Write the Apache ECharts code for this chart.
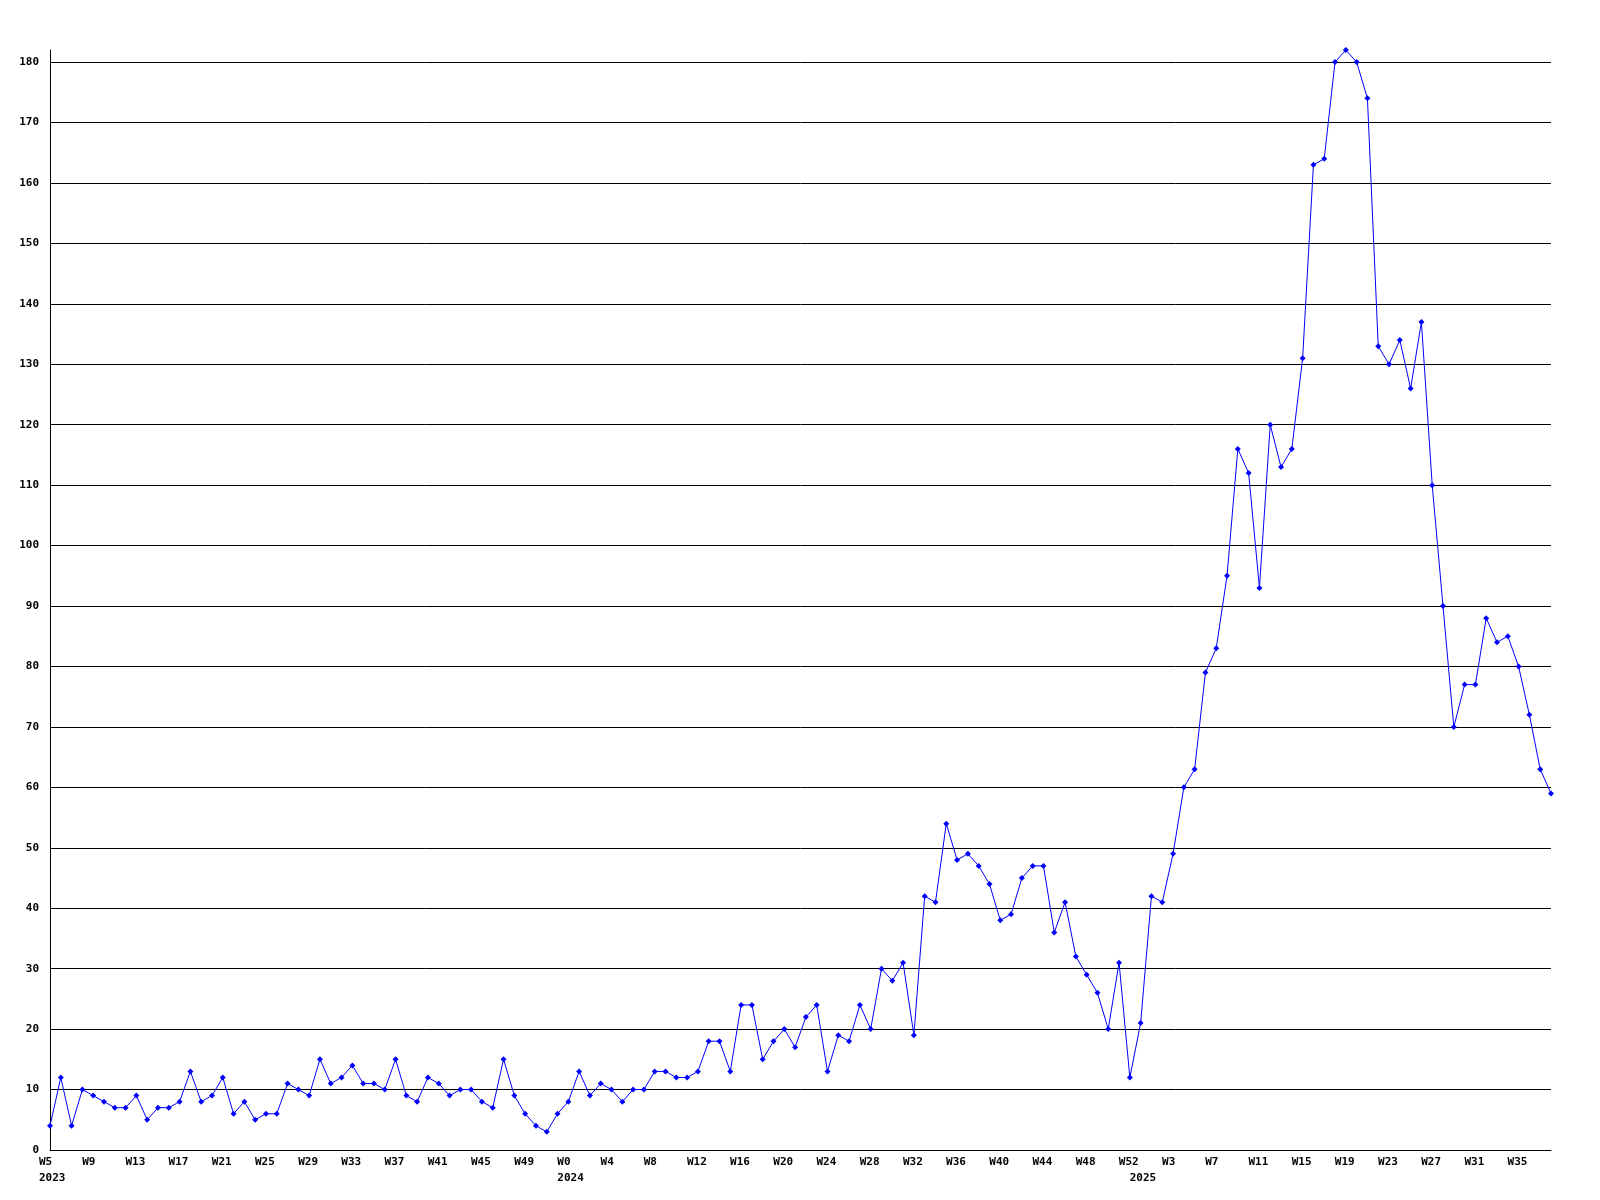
<!DOCTYPE html>
<html>
<head>
<meta charset="utf-8">
<script src="https://cdn.jsdelivr.net/npm/echarts@6/dist/echarts.min.js"></script>
<style>
html,body{margin:0;padding:0;background:#fff;}
#chart{width:1600px;height:1200px;}
</style>
</head>
<body>
<div id="chart"></div>
<script>
// Week ranges per year: [year, firstWeek, lastWeek]
const weekRanges = [[2023, 5, 52], [2024, 0, 52], [2025, 0, 38]];

const values2023 = [4,12,4,10,9,8,7,7,9,5,7,7,8,13,8,9,12,6,8,5,6,6,11,10,9,15,11,12,14,11,11,10,15,9,8,12,11,9,10,10,8,7,15,9,6,4,3,6];
const values2024 = [8,13,9,11,10,8,10,10,13,13,12,12,13,18,18,13,24,24,15,18,20,17,22,24,13,19,18,24,20,30,28,31,19,
                    42,41,54,48,49,47,44,38,39,45,47,47,36,41,32,29,26,20,31,12];
const values2025 = [21,42,41,49,60,63,79,83,95,116,112,93,120,113,116,131,163,164,180,182,180,174,133,130,134,126,137,110,90,70,77,77,88,84,85,80,72,63,59];

const yTickInterval = 10;

// Build categories "YYYY-Wn"
const categories = [];
const yearStartIdx = [];
weekRanges.forEach(([y, a, b]) => {
  yearStartIdx.push(categories.length);
  for (let w = a; w <= b; w++) categories.push(y + '-W' + w);
});
const values = values2023.concat(values2024, values2025);

const font = { fontFamily: 'DejaVu Sans Mono', fontWeight: 'bold', fontSize: 11, color: '#000' };

const chart = echarts.init(document.getElementById('chart'), null, { renderer: 'canvas' });
chart.setOption({
  animation: false,
  backgroundColor: '#fff',
  grid: { left: 50, right: 49, top: 50, bottom: 50, containLabel: false },
  xAxis: [
    {
      type: 'category',
      data: categories,
      boundaryGap: false,
      axisLine: { show: true, lineStyle: { color: '#000', width: 1 } },
      axisTick: { show: false },
      splitLine: { show: false },
      axisLabel: Object.assign({}, font, {
        interval: (i) => i % 4 === 0,
        margin: 7,
        showMinLabel: true,
        showMaxLabel: true,
        hideOverlap: false,
        align: 'center',
        formatter: v => '{a|' + v.split('-')[1] + '}',
        rich: { a: Object.assign({}, font, { width: 22, align: 'left' }) }
      })
    },
    {
      type: 'category',
      data: categories,
      boundaryGap: false,
      position: 'bottom',
      offset: 16,
      axisLine: { show: false },
      axisTick: { show: false },
      splitLine: { show: false },
      axisLabel: Object.assign({}, font, {
        interval: (i) => yearStartIdx.indexOf(i) >= 0,
        margin: 7,
        showMinLabel: true,
        showMaxLabel: true,
        hideOverlap: false,
        align: 'center',
        formatter: v => '{a|' + v.split('-')[0] + '}',
        rich: { a: Object.assign({}, font, { width: 22, align: 'left' }) }
      })
    }
  ],
  yAxis: {
    type: 'value',
    min: 0,
    max: 'dataMax',
    interval: yTickInterval,
    axisLine: { show: true, lineStyle: { color: '#000', width: 1 } },
    axisTick: { show: false },
    splitLine: { show: true, showMaxLine: false, lineStyle: { color: '#000', width: 1 } },
    axisLabel: Object.assign({}, font, {
      margin: 11,
      showMaxLabel: false,
      formatter: v => (v % yTickInterval === 0 ? String(v) : '')
    })
  },
  series: [{
    type: 'line',
    xAxisIndex: 0,
    data: values,
    color: '#0000ff',
    lineStyle: { color: '#0000ff', width: 1 },
    itemStyle: { color: '#0000ff' },
    symbol: 'diamond',
    symbolSize: 6,
    showSymbol: true,
    showAllSymbol: true,
    clip: false
  }]
});
</script>
</body>
</html>
